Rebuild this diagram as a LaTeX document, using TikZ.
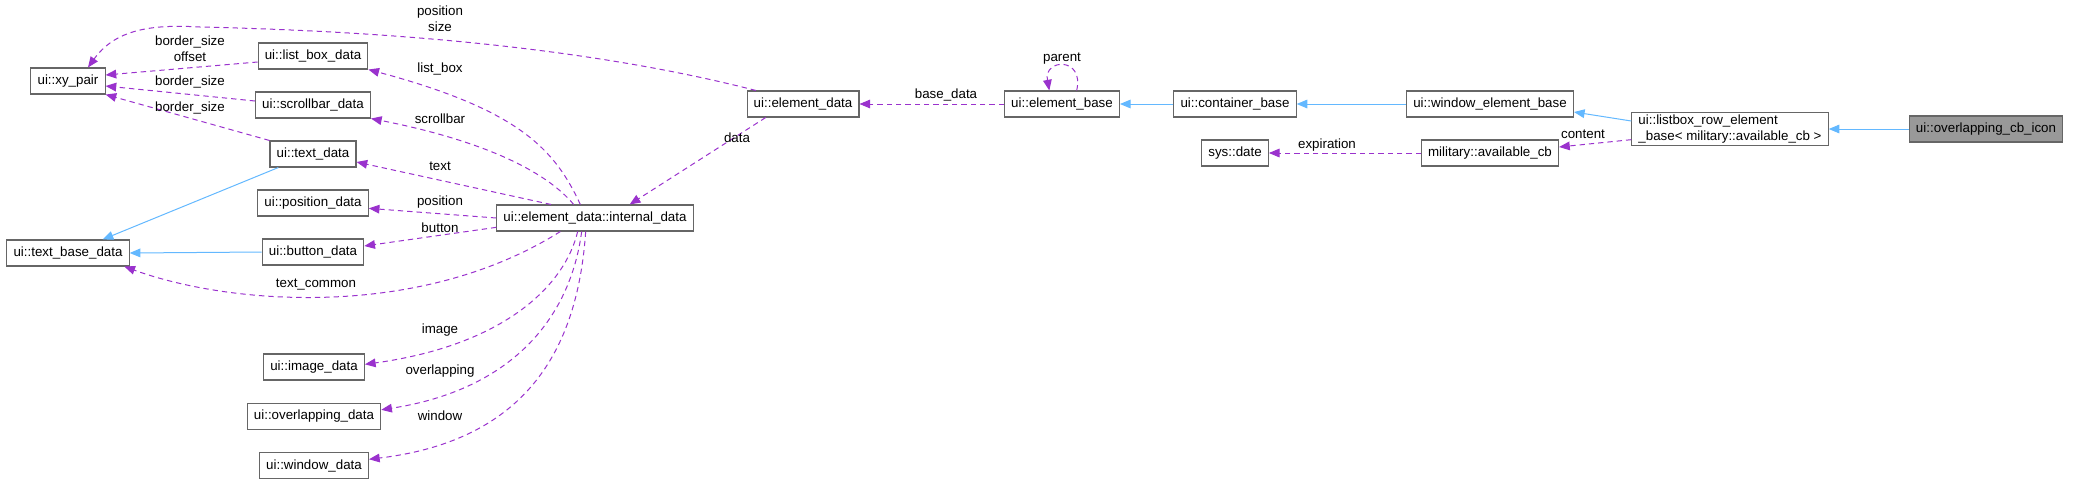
\documentclass[tikz,border=0pt]{standalone}
\usepackage{fontspec}
\setmainfont{Liberation Sans}
\usetikzlibrary{positioning}
\usetikzlibrary{arrows.meta}

\definecolor{deppurple}{HTML}{9A32CD}
\definecolor{inhblue}{HTML}{63B8FF}
\definecolor{boxgray}{HTML}{666666}
\definecolor{hlgray}{HTML}{999999}

\begin{document}
\begin{tikzpicture}[x=0.75pt,y=-0.75pt,font=\fontsize{10}{12}\selectfont,
	cls/.style={rectangle,draw=boxgray,fill=white,line width=0.8pt,minimum height=19.5pt,inner xsep=5pt,inner ysep=2pt},
	hl/.style={cls,fill=hlgray},
	dep/.style={draw=deppurple,line width=0.75pt,dash pattern=on 4pt off 3pt,-{Triangle[length=8pt,width=6.5pt]}},
	inh/.style={draw=inhblue,line width=0.75pt,-{Triangle[length=8pt,width=6.5pt]}},
	lbl/.style={align=center,inner sep=0pt},
	node distance = 16.45pt]
		\useasboundingbox (0,0) rectangle (2080,483);
		% left columns
		\node[cls] (xy) at (68,81) {ui::xy\_pair};
		\node[cls] (textbase) at (68,253) {ui::text\_base\_data};
		\node[cls] (listbox) at (313,56) {ui::list\_box\_data};
		\node[cls] (scrollbar)[below = of listbox]{ui::scrollbar\_data};
		\node[cls] (textdata)[below = of scrollbar]{ui::text\_data};
		\node[cls] (posdata)[below = of textdata]{ui::position\_data};
		\node[cls] (button)[below = of posdata]{ui::button\_data};
		\node[cls] (image) at (314,367) {ui::image\_data};
		\node[cls] (overlap)[below = 16.8pt of image]{ui::overlapping\_data};
		\node[cls] (window)[below = 16.8pt of overlap]{ui::window\_data};
		\node[cls] (intdata) at (595,218) {ui::element\_data::internal\_data};
		% top row
		\node[cls] (elemdata) at (803,104) {ui::element\_data};
		\node[cls] (elembase) at (1062,104) {ui::element\_base};
		\node[cls] (container) at (1235,104) {ui::container\_base};
		\node[cls] (sysdate) at (1235,153) {sys::date};
		\node[cls] (winbase) at (1490,104) {ui::window\_element\_base};
		\node[cls] (avail) at (1490,153) {military::available\_cb};
		\node[cls,align=left] (rowbase) at (1730,129) {ui::listbox\_row\_element\\\_base< military::available\_cb >};
		\node[hl] (icon) at (1986,129) {ui::overlapping\_cb\_icon};
		% inheritance
		\draw[inh] (icon.west) -- (rowbase.east);
		\draw[inh] ([yshift=6pt]rowbase.west) -- ([yshift=-6pt]winbase.east);
		\draw[inh] (winbase.west) -- (container.east);
		\draw[inh] (container.west) -- (elembase.east);
		\draw[inh] ([xshift=-26pt]textdata.south) -- ([xshift=26pt]textbase.north);
		\draw[inh] (button.west) -- (textbase.east);
		% members
		\draw[dep] ([yshift=-8pt]rowbase.west) -- ([yshift=4.5pt]avail.east);
		\draw[dep] (avail.west) -- (sysdate.east);
		\draw[dep] ([xshift=11pt]elembase.north) .. controls +(8,-34) and +(-6,-32) .. ([xshift=-9.5pt]elembase.north);
		\draw[dep] (elembase.west) -- (elemdata.east);
		\draw[dep] ([xshift=-28pt]elemdata.south) -- ([xshift=26pt]intdata.north);
		\draw[dep] ([xshift=7pt]elemdata.north west) .. controls (560,40) and (330,30) .. (200,27) .. controls (150,24) and (115,30) .. ([xshift=15pt]xy.north);
		\draw[dep] ([yshift=-4.5pt]listbox.west) -- ([yshift=4.5pt]xy.east);
		\draw[dep] ([yshift=3pt]scrollbar.west) -- ([yshift=-3.75pt]xy.east);
		\draw[dep] (textdata.north west) -- (xy.south east);
		\draw[dep] ([xshift=-11pt]intdata.north) .. controls (555,150) and (520,110) .. (listbox.south east);
		\draw[dep] ([xshift=-16pt]intdata.north) .. controls (545,170) and (480,140) .. (scrollbar.south east);
		\draw[dep] ([xshift=-33pt]intdata.north) -- ([yshift=-6pt]textdata.east);
		\draw[dep] (intdata.west) -- ([yshift=-4pt]posdata.east);
		\draw[dep] ([yshift=-7pt]intdata.west) -- ([yshift=4.5pt]button.east);
		\draw[dep] ([xshift=-26pt]intdata.south) .. controls (420,320) and (230,305) .. ([xshift=-4pt]textbase.south east);
		\draw[dep] ([xshift=-13pt]intdata.south) .. controls (565,285) and (505,345) .. ([yshift=2pt]image.east);
		\draw[dep] ([xshift=-10pt]intdata.south) .. controls (570,320) and (510,390) .. ([yshift=5pt]overlap.east);
		\draw[dep] ([xshift=-7pt]intdata.south) .. controls (578,345) and (530,440) .. ([yshift=5pt]window.east);
		% labels
		\node[lbl] (lxy1) at (190,49) {border\_size\\offset};
		\node[lbl] (lxy2) at (190,82) {border\_size};
		\node[lbl] (lxy3) at (190,108) {border\_size};
		\node[lbl] (lxy4) at (440,19) {position\\size};
		\node[lbl] (llist) at (440,69) {list\_box};
		\node[lbl] (lscroll) at (440,119) {scrollbar};
		\node[lbl] (ltext) at (440,166) {text};
		\node[lbl] (lpos) at (440,202) {position};
		\node[lbl] (lbutton) at (440,228) {button};
		\node[lbl] (lcommon) at (316,285) {text\_common};
		\node[lbl] (limage) at (440,330) {image};
		\node[lbl] (loverlap) at (440,371) {overlapping};
		\node[lbl] (lwindow) at (440,416) {window};
		\node[lbl] (ldata) at (737,138) {data};
		\node[lbl] (lbase) at (946,95) {base\_data};
		\node[lbl] (lparent) at (1062,59) {parent};
		\node[lbl] (lexp) at (1327,145) {expiration};
		\node[lbl] (lcontent) at (1583,134) {content};
	\end{tikzpicture}
\end{document}
